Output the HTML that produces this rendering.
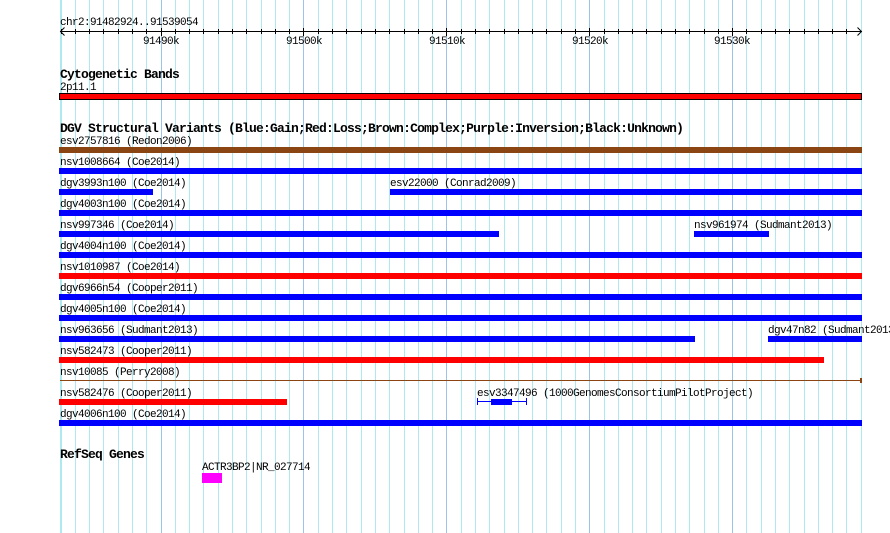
<!DOCTYPE html>
<html><head><meta charset="utf-8"><style>
html,body{margin:0;padding:0;background:#fff;}
svg{display:block;}
.s{font-family:"Liberation Mono",monospace;font-size:11px;letter-spacing:-0.6px;fill:#000;}
.b{font-family:"Liberation Mono",monospace;font-size:13px;font-weight:bold;letter-spacing:-0.8px;fill:#000;}
</style></head><body>
<svg width="890" height="533" viewBox="0 0 890 533" xmlns="http://www.w3.org/2000/svg">
<rect x="0" y="0" width="890" height="533" fill="#fff"/>
<g shape-rendering="crispEdges" fill="none" stroke-width="1">
<path stroke="#b0e8f0" d="M60.5 0V533M61.5 0V533M75.5 0V533M89.5 0V533M103.5 0V533M118.5 0V533M132.5 0V533M146.5 0V533M175.5 0V533M189.5 0V533M203.5 0V533M218.5 0V533M232.5 0V533M246.5 0V533M261.5 0V533M275.5 0V533M289.5 0V533M318.5 0V533M332.5 0V533M346.5 0V533M361.5 0V533M375.5 0V533M389.5 0V533M404.5 0V533M418.5 0V533M432.5 0V533M461.5 0V533M475.5 0V533M489.5 0V533M504.5 0V533M518.5 0V533M532.5 0V533M546.5 0V533M561.5 0V533M575.5 0V533M604.5 0V533M618.5 0V533M632.5 0V533M646.5 0V533M661.5 0V533M675.5 0V533M689.5 0V533M704.5 0V533M718.5 0V533M746.5 0V533M761.5 0V533M775.5 0V533M789.5 0V533M804.5 0V533M818.5 0V533M832.5 0V533M846.5 0V533M861.5 0V533"/>
<path stroke="#9cc4e8" d="M161.5 0V533M303.5 0V533M446.5 0V533M589.5 0V533M732.5 0V533"/>
<!-- ruler -->
<path stroke="#000" d="M60 31.5H862"/>
<path stroke="#000" d="M61.5 29V34M75.5 29V34M89.5 29V34M103.5 29V34M118.5 29V34M132.5 29V34M146.5 29V34M175.5 29V34M189.5 29V34M203.5 29V34M218.5 29V34M232.5 29V34M246.5 29V34M261.5 29V34M275.5 29V34M289.5 29V34M318.5 29V34M332.5 29V34M346.5 29V34M361.5 29V34M375.5 29V34M389.5 29V34M404.5 29V34M418.5 29V34M432.5 29V34M461.5 29V34M475.5 29V34M489.5 29V34M504.5 29V34M518.5 29V34M532.5 29V34M546.5 29V34M561.5 29V34M575.5 29V34M604.5 29V34M618.5 29V34M632.5 29V34M646.5 29V34M661.5 29V34M675.5 29V34M689.5 29V34M704.5 29V34M718.5 29V34M746.5 29V34M761.5 29V34M775.5 29V34M789.5 29V34M804.5 29V34M818.5 29V34M832.5 29V34M846.5 29V34M161.5 28V36M303.5 28V36M446.5 28V36M589.5 28V36M732.5 28V36"/>
</g>
<g fill="none" stroke="#000" stroke-width="1">
<path d="M64.5 27.5L60.5 31.5L64.5 35.5"/>
<path d="M857.5 27.5L861.5 31.5L857.5 35.5"/>
</g>
<text class="s" x="60" y="25">chr2:91482924..91539054</text>
<g class="s" text-anchor="middle">
<text x="161" y="44">91490k</text>
<text x="304" y="44">91500k</text>
<text x="447" y="44">91510k</text>
<text x="590" y="44">91520k</text>
<text x="732" y="44">91530k</text>
</g>

<!-- Cytogenetic bands -->
<text class="b" x="60" y="78">Cytogenetic Bands</text>
<text class="s" x="60" y="90">2p11.1</text>
<g shape-rendering="crispEdges">
<rect x="59" y="93" width="803" height="7" fill="#000"/>
<rect x="60" y="94" width="801" height="5" fill="#ff0000"/>
</g>

<!-- DGV -->
<text class="b" x="60" y="132">DGV Structural Variants (Blue:Gain;Red:Loss;Brown:Complex;Purple:Inversion;Black:Unknown)</text>
<g class="s">
<text x="60" y="144">esv2757816 (Redon2006)</text>
<text x="60" y="165">nsv1008664 (Coe2014)</text>
<text x="60" y="186">dgv3993n100 (Coe2014)</text>
<text x="390" y="186">esv22000 (Conrad2009)</text>
<text x="60" y="207">dgv4003n100 (Coe2014)</text>
<text x="60" y="228">nsv997346 (Coe2014)</text>
<text x="694" y="228">nsv961974 (Sudmant2013)</text>
<text x="60" y="249">dgv4004n100 (Coe2014)</text>
<text x="60" y="270">nsv1010987 (Coe2014)</text>
<text x="60" y="291">dgv6966n54 (Cooper2011)</text>
<text x="60" y="312">dgv4005n100 (Coe2014)</text>
<text x="60" y="333">nsv963656 (Sudmant2013)</text>
<text x="768" y="333">dgv47n82 (Sudmant2013)</text>
<text x="60" y="354">nsv582473 (Cooper2011)</text>
<text x="60" y="375">nsv10085 (Perry2008)</text>
<text x="60" y="396">nsv582476 (Cooper2011)</text>
<text x="477" y="396">esv3347496 (1000GenomesConsortiumPilotProject)</text>
<text x="60" y="417">dgv4006n100 (Coe2014)</text>
</g>
<g shape-rendering="crispEdges">
<rect x="59" y="147" width="803" height="6" fill="#8b4513"/>
<rect x="59" y="168" width="803" height="6" fill="#0000ff"/>
<rect x="59" y="189" width="94" height="6" fill="#0000ff"/>
<rect x="390" y="189" width="472" height="6" fill="#0000ff"/>
<rect x="59" y="210" width="803" height="6" fill="#0000ff"/>
<rect x="59" y="231" width="440" height="6" fill="#0000ff"/>
<rect x="694" y="231" width="75" height="6" fill="#0000ff"/>
<rect x="59" y="252" width="803" height="6" fill="#0000ff"/>
<rect x="59" y="273" width="803" height="6" fill="#ff0000"/>
<rect x="59" y="294" width="803" height="6" fill="#0000ff"/>
<rect x="59" y="315" width="803" height="6" fill="#0000ff"/>
<rect x="59" y="336" width="636" height="6" fill="#0000ff"/>
<rect x="768" y="336" width="94" height="6" fill="#0000ff"/>
<rect x="59" y="357" width="765" height="6" fill="#ff0000"/>
<rect x="60" y="380" width="802" height="1" fill="#8b4513"/>
<rect x="860" y="378" width="2" height="5" fill="#8b4513"/>
<rect x="59" y="399" width="228" height="6" fill="#ff0000"/>
<rect x="477" y="401" width="50" height="1" fill="#0000ff"/>
<rect x="477" y="398" width="1" height="7" fill="#0000ff"/>
<rect x="526" y="398" width="1" height="7" fill="#0000ff"/>
<rect x="491" y="399" width="21" height="6" fill="#0000ff"/>
<rect x="59" y="420" width="803" height="6" fill="#0000ff"/>
</g>

<!-- RefSeq -->
<text class="b" x="60" y="458">RefSeq Genes</text>
<text class="s" x="202" y="470">ACTR3BP2|NR_027714</text>
<rect x="202" y="473" width="20" height="10" fill="#ff00ff" shape-rendering="crispEdges"/>
</svg>
</body></html>
